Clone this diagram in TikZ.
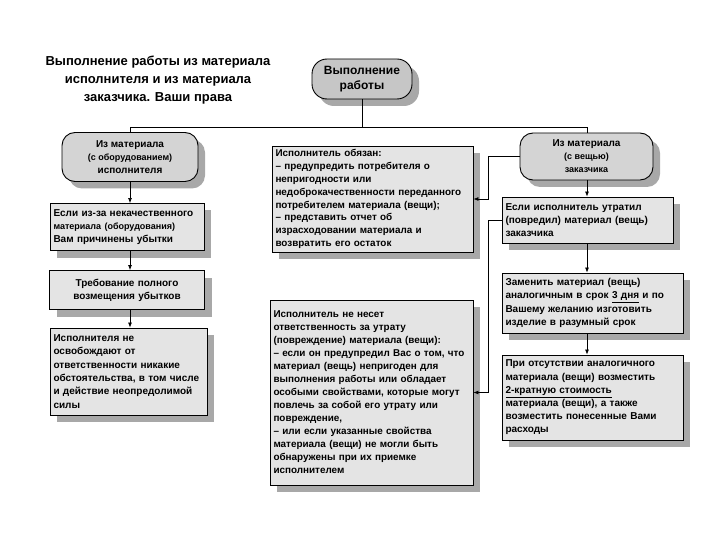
\documentclass[tikz,border=0pt]{standalone}
\usepackage{fontspec}
\setmainfont{Liberation Sans}
\usetikzlibrary{arrows.meta,shadows}
\definecolor{boxfill}{HTML}{E4E4E4}
\definecolor{termfill}{HTML}{D4D4D4}
\definecolor{topfill}{HTML}{C6C6C6}
\definecolor{shadowgray}{HTML}{A8A8A8}
\tikzset{
  shad/.style={drop shadow={shadow xshift=7pt,shadow yshift=-7pt,fill=shadowgray,opacity=1}},
  rbox/.style={draw,line width=0.9pt,fill=boxfill,shad,align=left,inner sep=3.5pt,
    font=\bfseries\fontsize{10}{13.2}\selectfont},
  term/.style={draw,line width=0.9pt,fill=termfill,shad,align=center,inner sep=3pt,
    rounded corners=13pt,font=\bfseries\fontsize{10}{13}\selectfont},
  ln/.style={line width=0.7pt},
  arr/.style={line width=0.7pt,-{Latex[length=5pt,width=4pt]}}
}
\begin{document}
\begin{tikzpicture}[x=1pt,y=-1pt]
\useasboundingbox[fill=white] (0,0) rectangle (720,540);

\node[font=\bfseries\fontsize{13}{18}\selectfont,align=center] (title) at (158,80)
  {Выполнение работы из материала\\исполнителя и из материала\\заказчика. Ваши права};

\node[term,fill=topfill,minimum width=100pt,minimum height=40pt,rounded corners=15pt,
  font=\bfseries\fontsize{12}{15}\selectfont] (top) at (362,79) {Выполнение\\работы};

% left column
\node[term,minimum width=136pt,minimum height=49pt] (L1) at (130,157)
  {Из материала\\{\fontsize{9}{13}\selectfont(с оборудованием)}\\исполнителя};
\node[rbox,text width=147pt,minimum height=47pt] (L2) at (127,227)
  {Если из-за некачественного\\{\fontsize{9}{13.2}\selectfont материала (оборудования)}\\Вам причинены убытки};
\node[rbox,align=center,text width=148pt,minimum height=39pt] (L3) at (127,290)
  {Требование полного\\возмещения убытков};
\node[rbox,text width=150pt,minimum height=87pt,font=\bfseries\fontsize{10}{13.4}\selectfont] (L4) at (128.5,371.5)
  {Исполнителя не\\освобождают от\\ответственности никакие\\обстоятельства, в том числе\\и действие неопредолимой\\силы};

% center column
\node[rbox,text width=194pt,minimum height=104pt,font=\bfseries\fontsize{9.9}{12.8}\selectfont] (C1) at (372.5,199)
  {Исполнитель обязан:\\– предупредить потребителя о\\непригодности или\\недоброкачественности переданного\\потребителем материала (вещи);\\– представить отчет об\\израсходовании материала и\\возвратить его остаток};
\node[rbox,text width=196pt,minimum height=185pt,font=\bfseries\fontsize{9.9}{13}\selectfont] (C2) at (371.5,392.5)
  {Исполнитель не несет\\ответственность за утрату\\(повреждение) материала (вещи):\\– если он предупредил Вас о том, что\\материал (вещь) непригоден для\\выполнения работы или обладает\\особыми свойствами, которые могут\\повлечь за собой его утрату или\\повреждение,\\– или если указанные свойства\\материала (вещи) не могли быть\\обнаружены при их приемке\\исполнителем};

% right column
\node[term,minimum width=133pt,minimum height=47pt] (R1) at (586.5,156.5)
  {Из материала\\{\fontsize{9}{13}\selectfont(с вещью)}\\{\fontsize{9}{13}\selectfont заказчика}};
\node[rbox,text width=164pt,minimum height=46pt] (R2) at (587.5,220)
  {Если исполнитель утратил\\(повредил) материал (вещь)\\заказчика};
\node[rbox,text width=174pt,minimum height=60pt] (R3) at (592.5,303)
  {Заменить материал (вещь)\\аналогичным в срок \underline{3 дня} и по\\Вашему желанию изготовить\\изделие в разумный срок};
\node[rbox,text width=174pt,minimum height=85pt] (R4) at (592.5,397.5)
  {При отсутствии аналогичного\\материала (вещи) возместить\\\underline{2-кратную стоимость}\\материала (вещи), а также\\возместить понесенные Вами\\расходы};

% connectors
\coordinate (jL) at (130,127);
\coordinate (jR) at (587,127);
\draw[ln] (top.south) -- (top.south |- jL);
\draw[ln] (L1.north) -- (jL) -- (jR) -- (jR |- R1.north);
\draw[arr] (L1.south) -- (L1.south |- L2.north);
\draw[arr] (L1.south |- L2.south) -- (L1.south |- L3.north);
\draw[arr] (L1.south |- L3.south) -- (L1.south |- L4.north);
\draw[arr] (jR |- R1.south) -- (jR |- R2.north);
\draw[arr] (jR |- R2.south) -- (jR |- R3.north);
\draw[arr] (jR |- R3.south) -- (jR |- R4.north);
\coordinate (bus1) at (488,156.5);
\coordinate (bus2) at (488,220);
\draw[arr] (R1.west) -- (bus1) |- (C1.east);
\draw[arr] (R2.west) -- (bus2) |- (C2.east);
\end{tikzpicture}
\end{document}
